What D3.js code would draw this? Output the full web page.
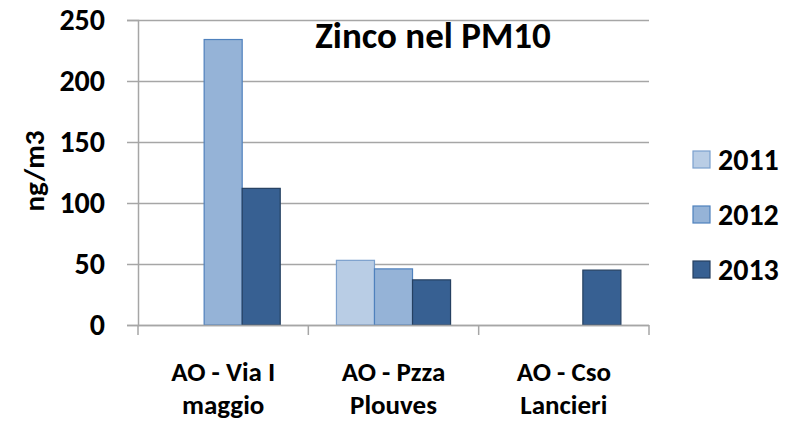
<!DOCTYPE html>
<html>
<head>
<meta charset="utf-8">
<script src="https://cdn.jsdelivr.net/npm/d3@7"></script>
<style>
  body { margin: 0; background: #fff; }
  text { font-family: Carlito, "Liberation Sans", Arial, sans-serif; font-weight: bold; fill: #000; }
</style>
</head>
<body>
<div id="chart"></div>
<script>
 //data
 var categories = ["AO - Via I maggio", "AO - Pzza Plouves", "AO - Cso Lancieri"];
 var categoryLines = [["AO - Via I", "maggio"], ["AO - Pzza", "Plouves"], ["AO - Cso", "Lancieri"]];
 var years = ["2011", "2012", "2013"];
 var values2011 = [null, 53, null];
 var values2012 = [234, 46, null];
 var values2013 = [112, 37, 45];
 var yTicks = [0, 50, 100, 150, 200, 250];

 var seriesValues = [values2011, values2012, values2013];
 var fills = ["#B9CDE5", "#95B3D7", "#376092"];
 var strokes = ["#7BA0CD", "#4F81BD", "#254061"];

 //margins of the plot area
 var margin = { left: 138, right: 149, top: 20, bottom: 98 };
 var width = 798 - margin.left - margin.right,
     height = 423 - margin.top - margin.bottom;

 var svg = d3.select("#chart")
     .append("svg")
     .attr("width", 798)
     .attr("height", 423);

 var chartGroup = svg.append("g")
     .attr("transform", "translate(" + margin.left + "," + margin.top + ")");

 //scales
 var x0 = d3.scaleBand()
     .domain(categories)
     .range([0, width]);

 var bw = x0.bandwidth();
 var x1 = d3.scaleBand()
     .domain(years)
     .range([bw * 0.165, bw * 0.835]);

 var yScale = d3.scaleLinear()
     .domain([0, 250])
     .range([height, 0]);

 //grid lines
 chartGroup.selectAll(".grid")
     .data(yTicks)
     .enter()
     .append("line")
     .attr("class", "grid")
     .attr("x1", 0)
     .attr("x2", width)
     .attr("y1", function (d) { return Math.round(yScale(d)) + 0.5; })
     .attr("y2", function (d) { return Math.round(yScale(d)) + 0.5; })
     .attr("stroke", "#a6a6a6")
     .attr("stroke-width", 1.5);

 //y axis
 var yAxis = d3.axisLeft(yScale)
     .tickValues(yTicks)
     .tickSize(11)
     .tickPadding(22);

 var yAxisG = chartGroup.append("g")
     .attr("class", "axis_y")
     .call(yAxis);
 yAxisG.select(".domain").attr("stroke", "#a6a6a6").attr("stroke-width", 1.5);
 yAxisG.selectAll(".tick line").attr("stroke", "#a6a6a6").attr("stroke-width", 1.5);
 yAxisG.selectAll(".tick text")
     .attr("font-size", "30px")
     .attr("font-family", null);

 //bars
 years.forEach(function (yr, s) {
     chartGroup.selectAll(".bar" + yr)
         .data(categories.map(function (c, i) { return { cat: c, v: seriesValues[s][i] }; })
             .filter(function (d) { return d.v != null; }))
         .enter()
         .append("rect")
         .attr("class", "bar" + yr)
         .attr("x", function (d) { return x0(d.cat) + x1(yr); })
         .attr("y", function (d) { return yScale(d.v); })
         .attr("width", x1.bandwidth())
         .attr("height", function (d) { return height - yScale(d.v); })
         .attr("fill", fills[s])
         .attr("stroke", strokes[s])
         .attr("stroke-width", 1.2);
 });

 //x axis line and category separators
 chartGroup.append("line")
     .attr("x1", 0).attr("x2", width)
     .attr("y1", height + 0.5).attr("y2", height + 0.5)
     .attr("stroke", "#a6a6a6").attr("stroke-width", 1.5);

 var seps = categories.map(function (c) { return x0(c); }).concat([width]);
 chartGroup.selectAll(".sep")
     .data(seps)
     .enter()
     .append("line")
     .attr("class", "sep")
     .attr("x1", function (d) { return d; })
     .attr("x2", function (d) { return d; })
     .attr("y1", height)
     .attr("y2", height + 10)
     .attr("stroke", "#a6a6a6").attr("stroke-width", 1.5);

 //category labels, two lines each
 var catLabel = chartGroup.selectAll(".catLabel")
     .data(categories)
     .enter()
     .append("text")
     .attr("class", "catLabel")
     .attr("text-anchor", "middle")
     .attr("font-size", "27px")
     .attr("x", function (d) { return x0(d) + bw / 2; })
     .attr("y", height + 56);
 catLabel.each(function (d, i) {
     var t = d3.select(this);
     categoryLines[i].forEach(function (line, k) {
         t.append("tspan")
             .attr("x", x0(d) + bw / 2)
             .attr("dy", k === 0 ? 0 : 33)
             .text(line);
     });
 });

 //title
 chartGroup.append("text")
     .attr("x", 295)
     .attr("y", 28)
     .attr("text-anchor", "middle")
     .attr("font-size", "37px")
     .text("Zinco nel PM10");

 //y axis label
 svg.append("text")
     .attr("transform", "translate(44,171) rotate(-90)")
     .attr("text-anchor", "middle")
     .attr("font-size", "29px")
     .text("ng/m3");

 //legend
 var legend = svg.selectAll(".legend")
     .data(years)
     .enter()
     .append("g")
     .attr("class", "legend")
     .attr("transform", function (d, i) { return "translate(693," + (151 + i * 55) + ")"; });

 legend.append("rect")
     .attr("width", 17)
     .attr("height", 17)
     .attr("fill", function (d, i) { return fills[i]; })
     .attr("stroke", function (d, i) { return strokes[i]; })
     .attr("stroke-width", 1.2);

 legend.append("text")
     .attr("x", 25)
     .attr("y", 19)
     .attr("font-size", "30px")
     .text(function (d) { return d; });
</script>
</body>
</html>
